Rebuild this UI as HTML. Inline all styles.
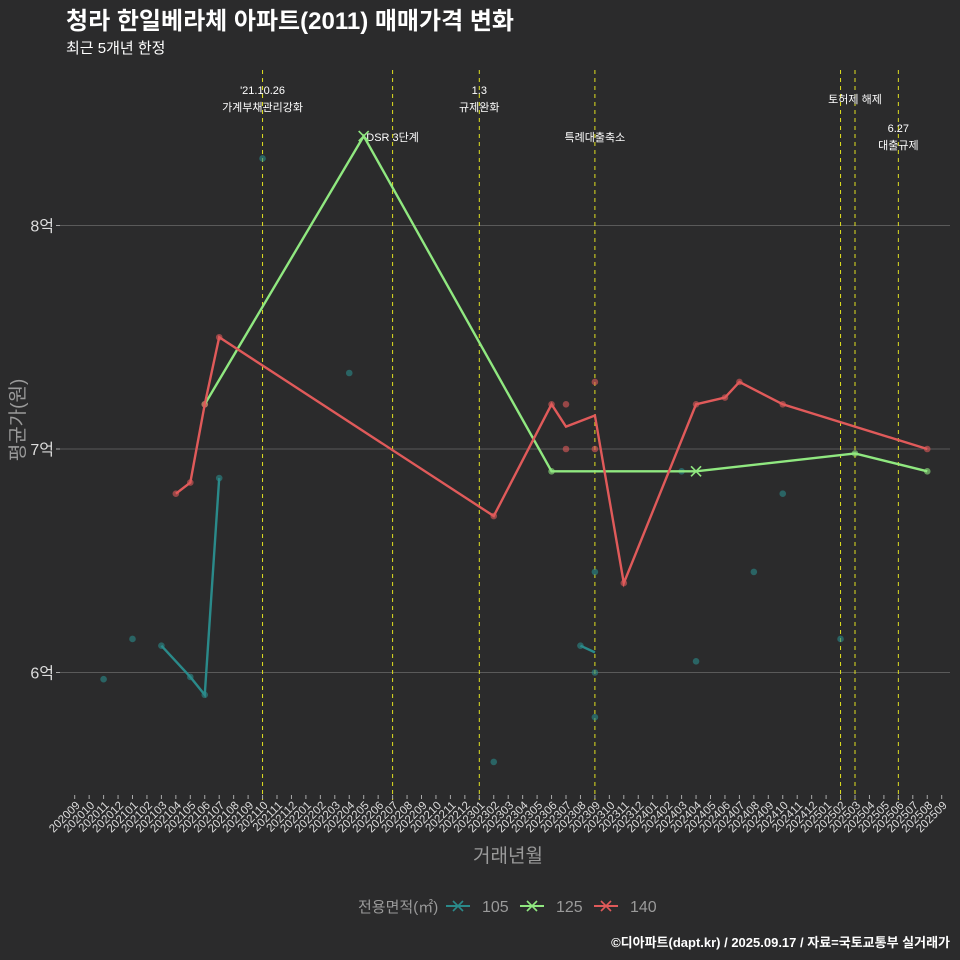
<!DOCTYPE html>
<html><head><meta charset="utf-8">
<style>
html,body{margin:0;padding:0;background:#2b2b2c;}
svg{display:block;font-family:"Liberation Sans","Noto Sans CJK KR",sans-serif;}
</style></head>
<body>
<svg id="chart" width="960" height="960" viewBox="0 0 960 960" xmlns="http://www.w3.org/2000/svg">
<rect width="960" height="960" fill="#2b2b2c"/>
<text x="66" y="29" fill="#ffffff" font-size="24" font-weight="bold">청라 한일베라체 아파트(2011) 매매가격 변화</text>
<text x="66" y="53" fill="#ffffff" font-size="15">최근 5개년 한정</text>
<g id="grid"></g>
<g id="vlines"></g>
<g id="series"></g>
<g id="xaxis"></g>
<text x="508" y="862" fill="#9a9a9a" font-size="19" text-anchor="middle">거래년월</text>
<text transform="translate(24,420) rotate(-90)" fill="#9a9a9a" font-size="19" text-anchor="middle">평균가(원)</text>
<g id="legend">
<text x="358" y="912" fill="#9a9a9a" font-size="15">전용면적(㎡)</text>
</g>
<text x="950" y="947" fill="#ffffff" font-size="13" font-weight="bold" text-anchor="end">©디아파트(dapt.kr) / 2025.09.17 / 자료=국토교통부 실거래가</text>
</svg>
<script>
const months = [];
for (let y = 2020, m = 9; !(y === 2025 && m === 10); ) { months.push(String(y) + String(m).padStart(2, '0')); m++; if (m > 12) { m = 1; y++; } }
const yTicks = [6, 7, 8];
const yTickLabels = ['6억', '7억', '8억'];
const seriesNames = ['105', '125', '140'];
const seriesColors = ['#2a8a8a', '#90e880', '#e05a5a'];
const line105a = [['202103', 6.12], ['202105', 5.98], ['202106', 5.9], ['202107', 6.87]];
const line105b = [['202308', 6.12], ['202309', 6.09]];
const line125 = [['202106', 7.2], ['202205', 8.4], ['202306', 6.9], ['202404', 6.9], ['202503', 6.98], ['202508', 6.9]];
const line140 = [['202104', 6.8], ['202105', 6.85], ['202106', 7.2], ['202107', 7.5], ['202302', 6.7], ['202306', 7.2], ['202307', 7.1], ['202309', 7.15], ['202311', 6.4], ['202404', 7.2], ['202406', 7.23], ['202407', 7.3], ['202410', 7.2], ['202508', 7.0]];
const pts105 = [['202011', 5.97], ['202101', 6.15], ['202103', 6.12], ['202105', 5.98], ['202106', 5.9], ['202107', 6.87], ['202110', 8.3], ['202204', 7.34], ['202302', 5.6], ['202308', 6.12], ['202309', 6.45], ['202309', 6.0], ['202309', 5.8], ['202403', 6.9], ['202404', 6.05], ['202408', 6.45], ['202410', 6.8], ['202502', 6.15]];
const pts125 = [['202106', 7.2], ['202306', 6.9], ['202503', 6.98], ['202508', 6.9]];
const pts140 = [['202104', 6.8], ['202105', 6.85], ['202106', 7.2], ['202107', 7.5], ['202302', 6.7], ['202306', 7.2], ['202307', 7.2], ['202307', 7.0], ['202309', 7.3], ['202309', 7.0], ['202311', 6.4], ['202404', 7.2], ['202406', 7.23], ['202407', 7.3], ['202410', 7.2], ['202508', 7.0]];
const eventMonths = ['202110', '202207', '202301', '202309', '202502', '202503', '202506'];
const eventLabels = [["'21.10.26", '가계부채관리강화'], ['DSR 3단계'], ['1.3', '규제완화'], ['특례대출축소'], [], ['토허제 해제'], ['6.27', '대출규제']];
const eventLabelY = [94, 141, 94, 141, 0, 103, 132];

const NS = 'http://www.w3.org/2000/svg';
const x0 = 74.7, dx = 14.45, y7 = 449, ky = 223.5;
function xs(mo) { return x0 + months.indexOf(mo) * dx; }
function ys(v) { return y7 - (v - 7) * ky; }
function mk(tag, attrs, parent) { const e = document.createElementNS(NS, tag); for (const k in attrs) e.setAttribute(k, attrs[k]); parent.appendChild(e); return e; }

const grid = document.getElementById('grid');
yTicks.forEach((t, i) => {
  const l = mk('line', { x1: 60, x2: 950, y1: ys(t), y2: ys(t), stroke: '#5a5a5a', 'stroke-width': 1 }, grid);
  
  
  const tk = mk('line', { x1: 56, x2: 60, y1: ys(t), y2: ys(t), stroke: '#aaaaaa' }, grid);
  
  
  const tx = mk('text', { x: 54, y: ys(t) + 6, fill: '#dddddd', 'font-size': 16, 'text-anchor': 'end' }, grid);
  tx.textContent = yTickLabels[i];
  
  
});

const xa = document.getElementById('xaxis');
months.forEach(mo => {
  const x = xs(mo);
  const tk = mk('line', { x1: x, x2: x, y1: 795, y2: 799, stroke: '#aaaaaa' }, xa);
  
  
  const t = mk('text', { transform: 'translate(' + (x + 6) + ',806) rotate(-45)', fill: '#dddddd', 'font-size': 11.5, 'text-anchor': 'end' }, xa);
  t.textContent = mo;
  
  
});

const vl = document.getElementById('vlines');
eventMonths.forEach((mo, i) => {
  const x = xs(mo);
  const l = mk('line', { x1: x, x2: x, y1: 70, y2: 800, stroke: '#e0e020', 'stroke-width': 1, 'stroke-dasharray': '4,4' }, vl);
  
  
  eventLabels[i].forEach((s, j) => {
    const t = mk('text', { x: x, y: eventLabelY[i] + j * 17, fill: '#ffffff', 'font-size': 11, 'text-anchor': 'middle' }, vl);
    t.textContent = s;
    
    
  });
});

const sg = document.getElementById('series');
function drawLine(data, color, name) {
  const p = mk('polyline', { points: data.map(d => xs(d[0]) + ',' + ys(d[1])).join(' '), fill: 'none', stroke: color, 'stroke-width': 2.4 }, sg);
  
  
}
function drawPts(data, color, name) {
  data.forEach(d => {
    const c = mk('circle', { cx: xs(d[0]), cy: ys(d[1]), r: 3.3, fill: color, opacity: 0.6 }, sg);
    
    
  });
}
drawPts(pts105, seriesColors[0], 'point-105');
drawPts(pts125, seriesColors[1], 'point-125');
drawPts(pts140, seriesColors[2], 'point-140');
drawLine(line105a, seriesColors[0], 'line-105');
drawLine(line105b, seriesColors[0], 'line-105');
drawLine(line125, seriesColors[1], 'line-125');
drawLine(line140, seriesColors[2], 'line-140');
function xMark(cx, cy, color, parent, name) {
  const g = mk('g', { stroke: color, 'stroke-width': 1.6 }, parent);
  
  
  mk('line', { x1: cx - 5, y1: cy - 5, x2: cx + 5, y2: cy + 5 }, g);
  mk('line', { x1: cx - 5, y1: cy + 5, x2: cx + 5, y2: cy - 5 }, g);
}
xMark(xs('202205'), ys(8.4), seriesColors[1], sg, 'marker-125');
xMark(xs('202404'), ys(6.9), seriesColors[1], sg, 'marker-125');

const lg = document.getElementById('legend');
const lx = [446, 520, 594];
seriesNames.forEach((n, i) => {
  const g = mk('g', {}, lg);
  
  
  mk('line', { x1: lx[i], x2: lx[i] + 24, y1: 906, y2: 906, stroke: seriesColors[i], 'stroke-width': 2 }, g);
  xMark(lx[i] + 12, 906, seriesColors[i], g, 'legend-key');
  const t = mk('text', { x: lx[i] + 36, y: 912, fill: '#9a9a9a', 'font-size': 16 }, g);
  t.textContent = n;
  
  
});
</script>
</body></html>
